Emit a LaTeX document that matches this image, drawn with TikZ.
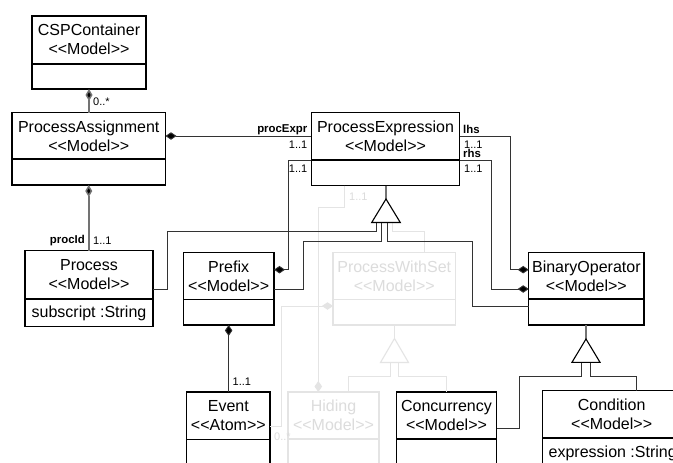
\documentclass[tikz,border=0pt]{standalone}
\usepackage{fontspec}
\setmainfont{Liberation Sans}
\usetikzlibrary{arrows.meta,calc}
\definecolor{faint}{HTML}{E4E4E4}
\definecolor{faintt}{HTML}{DCDCDC}
\newcommand{\ster}[1]{<{}<#1>{}>}
\tikzset{
  umlbox/.style={draw=black,line width=1.3pt,fill=white,inner sep=0pt,outer sep=0pt},
  umltext/.style={inner sep=0pt,align=center,text=black,font=\fontsize{16}{19}\selectfont},
  ghostbox/.style={umlbox,draw=faint},
  ghosttext/.style={umltext,text=faintt},
  divline/.style={black,line width=1.2pt},
  ghostdiv/.style={faint,line width=1.2pt},
  conn/.style={draw=black!80,line width=0.9pt},
  stem/.style={draw=black!55,line width=1.5pt},
  ghost/.style={draw=faint,line width=0.9pt},
  comp/.style={conn,-{Diamond[length=11pt,width=7.5pt,fill=black]}},
  stemcomp/.style={stem,-{Diamond[length=12pt,width=7pt,fill=black]}},
  ghostcomp/.style={ghost,-{Diamond[length=11pt,width=7.5pt,fill=faint]}},
  gentri/.style={draw=black,line width=1.1pt,fill=white,line join=miter},
  ghosttri/.style={draw=faint,line width=1.1pt,fill=white},
  mult/.style={inner sep=0pt,font=\fontsize{11}{11}\selectfont,text=black},
  role/.style={inner sep=0pt,font=\fontsize{11.4}{11}\bfseries\selectfont,text=black},
  ghostmult/.style={mult,text=faintt},
}
% name, x1, y1, x2, y2, divider y, title, box style, divider style
\newcommand{\classbox}[9]{%
  \node[#8,minimum width={#4-#2},minimum height={#5-#3}] (#1) at ({(#2+#4)/2},{(#3+#5)/2}) {};
  \draw[#9] (#1.west |- 0,#6) -- (#1.east |- 0,#6);
  \node[umltext,#9t] (#1t) at ({(#2+#4)/2},{#3+23.5}) {#7};
}
\tikzset{divlinet/.style={},ghostdivt/.style={ghosttext}}
\begin{document}
\begin{tikzpicture}[x=1pt,y=-1pt]
\useasboundingbox (0,0) rectangle (673,463);
\clip (0,0) rectangle (673,463);
\fill[white] (0,0) rectangle (673,463);
% triangle apexes
\coordinate (tpe) at (386,199);
\coordinate (tpws) at (394.5,338.5);
\coordinate (tbo) at (586,339);
% ghost classes
\classbox{pws}{333}{252.5}{455.5}{325}{299.5}{ProcessWithSet\\\ster{Model}}{ghostbox}{ghostdiv}
\classbox{hid}{288}{392}{379}{466}{439}{Hiding\\\ster{Model}}{ghostbox}{ghostdiv}
% black classes
\classbox{csp}{32}{16}{146}{89}{64}{CSPContainer\\\ster{Model}}{umlbox}{divline}
\classbox{pa}{12}{112.5}{165.5}{185}{159}{ProcessAssignment\\\ster{Model}}{umlbox}{divline}
\classbox{pe}{311.3}{112.7}{459.7}{185.5}{160}{ProcessExpression\\\ster{Model}}{umlbox}{divline}
\classbox{bo}{528.7}{252.3}{644}{325}{299}{BinaryOperator\\\ster{Model}}{umlbox}{divline}
\classbox{proc}{25}{250.7}{153}{326.7}{299}{Process\\\ster{Model}}{umlbox}{divline}
\classbox{pre}{183.3}{252.3}{274}{325}{299.5}{Prefix\\\ster{Model}}{umlbox}{divline}
\classbox{ev}{186.7}{392}{270}{466}{439.3}{Event\\\ster{Atom}}{umlbox}{divline}
\classbox{con}{396.3}{392}{496.7}{466}{439}{Concurrency\\\ster{Model}}{umlbox}{divline}
\classbox{cond}{542.3}{390.7}{681}{466}{438}{Condition\\\ster{Model}}{umlbox}{divline}
\node[umltext,anchor=center] (procattr) at (89,313) {subscript :String};
\node[umltext,anchor=west] (condattr) at (548.5,453) {expression :String};
% ghost connectors
\draw[ghost] (pe.south -| 344.7,0) -- (344.7,207) -- (318.3,207) -- (318.3,376);
\draw[ghostcomp] (318.3,370) -- (hid.north -| 318.3,0);
\draw[ghostcomp] (ev.east |- 0,426.7) -- (281.7,426.7) -- (281.7,306) -- (pws.west |- 0,306);
\draw[ghost] (pws.north -| 424.3,0) -- (424.3,231) -- (392.5,231) -- (392.5,222.5);
\draw[ghost] (pws.south -| tpws) -- (tpws);
\draw[ghost] (hid.north -| 348.3,0) -- (348.3,376) -- (390,376) -- (390,362.3);
\draw[ghost] (con.north -| 446.7,0) -- (446.7,376) -- (398,376) -- (398,362.3);
\draw[ghosttri] (tpws) -- ++(-14,24) -- ++(28,0) -- cycle;
% composition connectors
\draw[stemcomp] (pa.north -| csp.south) -- (csp.south);
\draw[stemcomp] (proc.north -| pa.south) -- (pa.south);
\draw[comp] (pe.west |- 0,136) -- (pa.east |- 0,136);
\draw[comp] (pe.west |- 0,160) -- (288,160) -- (288,269.7) -- (pre.east |- 0,269.7);
\draw[comp] (pe.east |- 0,136) -- (510.7,136) -- (510.7,269.7) -- (bo.west |- 0,269.7);
\draw[comp] (pe.east |- 0,160) -- (491.7,160) -- (491.7,289) -- (bo.west |- 0,289);
\draw[comp] (ev.north -| pre.south) -- (pre.south);
% generalisations
\draw[stem] (pe.south -| tpe) -- (tpe);
\draw[conn] (proc.east |- 0,289) -- (167,289) -- (167,231) -- (376.7,231) -- (376.7,222.5);
\draw[conn] (pre.east |- 0,289) -- (303.4,289) -- (303.4,241) -- (381.7,241) -- (381.7,222.5);
\draw[conn] (bo.west |- 0,306.7) -- (472.7,306.7) -- (472.7,241.5) -- (387.7,241.5) -- (387.7,222.5);
\draw[gentri] (tpe) -- ++(-14.3,23.5) -- ++(28.6,0) -- cycle;
\draw[stem] (bo.south -| tbo) -- (tbo);
\draw[conn] (con.east |- 0,428.3) -- (519.3,428.3) -- (519.3,376) -- (581.7,376) -- (581.7,362.3);
\draw[conn] (cond.north -| 636,0) -- (636,376) -- (590.3,376) -- (590.3,362.3);
\draw[gentri] (tbo) -- ++(-14,23.3) -- ++(28,0) -- cycle;
% labels
\node[mult,anchor=west] (l1) at (93,102) {0..*};
\node[role,anchor=east] (l2) at (307.5,129.5) {procExpr};
\node[mult,anchor=east] (l3) at (307.5,144.5) {1..1};
\node[mult,anchor=east] (l4) at (307.5,168.5) {1..1};
\node[role,anchor=west] (l5) at (463,129.5) {lhs};
\node[mult,anchor=west] (l6) at (464,144.5) {1..1};
\node[role,anchor=west] (l7) at (463,153) {rhs};
\node[mult,anchor=west] (l8) at (464,168.5) {1..1};
\node[role,anchor=east] (l9) at (85,240.5) {procId};
\node[mult,anchor=west] (l10) at (93,240.5) {1..1};
\node[mult,anchor=west] (l11) at (232.5,381.5) {1..1};
\node[ghostmult,anchor=west] (l12) at (349,197) {1..1};
\node[ghostmult,anchor=west] (l13) at (274,437) {0..*};
\end{tikzpicture}
\end{document}
